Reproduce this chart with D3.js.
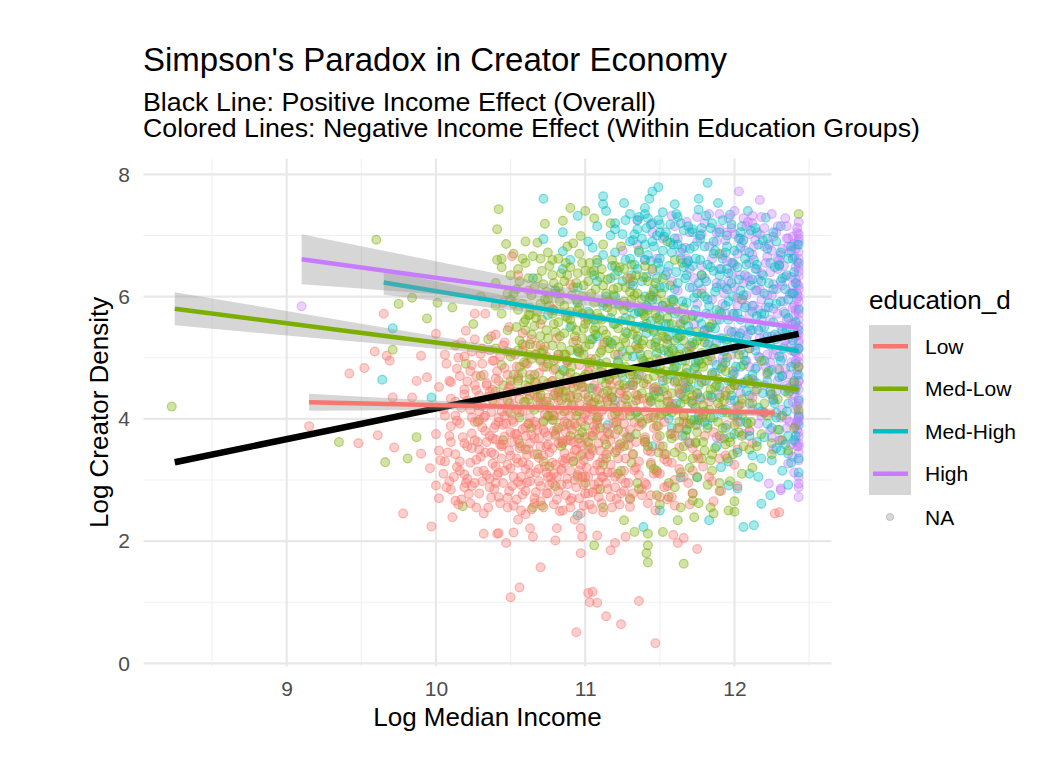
<!DOCTYPE html>
<html><head><meta charset="utf-8">
<script src="https://cdn.jsdelivr.net/npm/d3@7"></script>
<style>
html,body{margin:0;padding:0;background:#fff;}
svg text{font-family:"Liberation Sans",Arial,Helvetica,sans-serif;}
</style></head>
<body>
<svg id="chart" width="1051" height="761"></svg>
<script>
// ---------------- DATA ----------------
const groups = ["Low","Med-Low","Med-High","High"];
const groupColors = ["#F8766D","#7CAE00","#00BFC4","#C77CFF"];
const xTicks = [9,10,11,12];
const yTicks = [0,2,4,6,8];
const xMinor = [8.5,9.5,10.5,11.5,12.5];
const yMinor = [1,3,5,7];

// individually read points [x, y]
const lowPts = [[9.15,3.88],[9.42,4.74],[9.48,3.6],[9.52,4.83],[9.59,5.1],[9.61,3.73],[9.65,5.72],[9.67,5.03],[9.69,4.95],[9.71,4.35],[9.72,3.53],[9.78,2.45],[9.84,4.35],[9.87,4.62],[9.9,3.43],[9.9,5.03],[9.94,4.68],[9.96,3.19],[9.97,2.24],[10.0,5.39],[10.0,2.91],[10.03,3.32],[10.07,2.88],[10.07,4.9],[10.11,2.39],[10.19,3.09],[10.2,5.44],[10.26,5.72],[10.3,5.06],[10.32,2.12],[10.41,2.12],[10.42,2.13],[10.47,1.97],[10.52,2.14],[10.63,2.21],[10.65,2.07],[10.8,2.01],[10.81,2.21],[10.97,2.21],[10.98,2.07],[11.08,2.09],[11.17,1.85],[11.2,1.97],[11.27,2.07],[11.59,2.1],[11.62,1.97],[11.66,2.05],[10.7,1.57],[10.5,1.08],[10.56,1.24],[11.02,1.15],[11.05,1.17],[11.03,1.0],[11.08,0.99],[11.14,0.77],[11.24,0.64],[10.94,0.51],[11.36,1.02],[11.47,0.33],[10.97,1.8],[11.75,1.87],[12.27,2.45],[12.3,2.47],
[10.35,2.55],[10.48,2.71],[10.6,2.44],[10.66,2.62],[10.74,2.78],[10.83,2.49],[10.9,2.66],[10.99,2.58],[11.05,2.8],[11.12,2.47],[11.21,2.69],[11.3,2.56],[11.38,2.75],[11.47,2.5],[11.55,2.68],[10.22,2.77],[10.15,2.6],[11.7,2.6],[10.57,2.92],[10.93,2.35],
[10.12,3.05],[10.2,2.95],[10.28,3.14],[10.36,2.88],[10.41,3.08],[10.5,3.19],[10.55,2.97],[10.63,3.11],[10.7,2.9],[10.77,3.05],[10.84,3.18],[10.88,2.93],[10.95,3.08],[11.01,3.2],[11.09,2.96],[11.15,3.12],[11.24,3.02],[11.33,3.16],[11.41,2.92],[11.5,3.1],[11.6,3.0],[11.72,3.15],[11.85,2.98],[10.05,3.1],
[10.08,3.45],[10.16,3.3],[10.24,3.52],[10.3,3.38],[10.38,3.27],[10.44,3.55],[10.5,3.4],[10.58,3.29],[10.62,3.5],[10.69,3.36],[10.75,3.58],[10.8,3.25],[10.86,3.44],[10.92,3.31],[10.98,3.56],[11.03,3.39],[11.1,3.28],[11.16,3.5],[11.22,3.35],[11.29,3.57],[11.36,3.3],[11.44,3.46],[11.53,3.34],[11.63,3.53],[11.75,3.41],[11.9,3.35],[12.02,3.5],
[10.0,3.75],[10.1,3.88],[10.18,3.7],[10.26,3.95],[10.33,3.8],[10.4,3.66],[10.47,3.92],[10.53,3.75],[10.6,3.86],[10.66,3.68],[10.72,3.97],[10.79,3.8],[10.85,3.64],[10.9,3.9],[10.96,3.74],[11.02,3.98],[11.07,3.82],[11.13,3.66],[11.19,3.93],[11.26,3.78],[11.33,3.95],[11.4,3.7],[11.49,3.88],[11.58,3.76],[11.68,3.92],[11.8,3.72],[11.95,3.9],[12.1,3.8],
[10.05,4.15],[10.13,4.05],[10.21,4.3],[10.29,4.12],[10.35,4.36],[10.42,4.02],[10.49,4.25],[10.56,4.1],[10.63,4.38],[10.7,4.18],[10.76,4.04],[10.82,4.3],[10.88,4.14],[10.94,4.4],[11.0,4.08],[11.06,4.27],[11.12,4.15],[11.18,4.35],[11.25,4.05],[11.32,4.22],[11.39,4.33],[11.47,4.1],[11.56,4.28],[11.66,4.06],[11.77,4.32],[11.9,4.18],[12.05,4.25],[12.2,4.1],
[10.1,4.6],[10.19,4.48],[10.27,4.7],[10.34,4.55],[10.41,4.78],[10.48,4.45],[10.55,4.66],[10.62,4.52],[10.69,4.75],[10.75,4.58],[10.82,4.44],[10.88,4.69],[10.95,4.55],[11.02,4.77],[11.09,4.5],[11.16,4.64],[11.24,4.46],[11.32,4.72],[11.41,4.56],[11.52,4.68],[11.65,4.5],[11.8,4.62],[12.0,4.55],
[10.15,5.0],[10.24,4.88],[10.31,5.15],[10.38,4.95],[10.46,5.25],[10.53,5.05],[10.6,4.9],[10.67,5.2],[10.74,5.02],[10.81,5.32],[10.88,4.92],[10.96,5.12],[11.04,4.98],[11.12,5.22],[11.22,5.05],[11.35,5.15],[11.5,4.95],[10.4,5.38],[10.58,5.4],[10.7,5.55],
[10.33,5.72],[10.45,5.9],[10.51,6.66],[10.62,6.1],[10.78,5.8],[10.9,6.2],[11.0,5.65],[10.55,6.35],[11.15,5.9],[11.3,6.3]];

const medLowPts = [[8.23,4.2],[9.35,3.62],[9.6,6.93],[9.66,3.29],[9.71,5.13],[9.75,5.88],[9.81,3.35],[9.84,5.98],[9.87,3.7],[9.94,5.64],[10.01,5.9],[10.11,5.82],[10.18,2.57],[10.42,7.43],[10.41,7.1],[10.41,6.6],[10.47,6.86],[10.44,6.62],[10.65,6.66],[10.73,7.19],[10.85,7.24],[10.9,7.45],[11.0,7.4],[10.92,6.87],[10.97,6.99],[11.06,7.28],[11.17,7.2],[11.06,1.93],[11.42,1.93],[11.66,1.63],[11.42,1.65],[12.43,7.35],[11.41,1.8],
[10.65,2.55],[10.71,2.58],[11.12,2.55],[11.26,2.34],[11.33,2.15],[11.42,2.12],[11.52,2.15],[11.62,2.34],[11.73,2.39],[11.86,2.45],[11.96,2.5],[12.0,2.48],[11.84,2.55],[11.72,2.66],[11.56,2.72],
[10.8,2.9],[10.95,3.05],[11.1,2.85],[11.22,3.1],[11.35,2.95],[11.48,3.15],[11.6,2.88],[11.75,3.05],[11.9,2.95],[12.05,3.1],[11.3,2.7],[11.5,2.6],
[10.6,3.5],[10.72,3.3],[10.85,3.6],[10.97,3.4],[11.05,3.72],[11.14,3.35],[11.23,3.58],[11.31,3.28],[11.4,3.66],[11.49,3.45],[11.57,3.75],[11.65,3.38],[11.74,3.6],[11.85,3.42],[11.97,3.7],[12.1,3.5],[12.25,3.6],[10.45,3.65],
[10.5,4.1],[10.62,3.92],[10.7,4.25],[10.79,4.05],[10.87,4.35],[10.94,3.88],[11.01,4.18],[11.08,4.02],[11.15,4.3],[11.21,3.95],[11.28,4.2],[11.35,4.38],[11.42,4.0],[11.5,4.24],[11.58,4.1],[11.66,4.36],[11.74,3.9],[11.83,4.15],[11.93,4.3],[12.05,4.05],[12.2,4.25],[10.38,4.3],[10.28,3.95],
[10.3,4.7],[10.45,4.55],[10.56,4.85],[10.66,4.6],[10.75,4.9],[10.83,4.48],[10.9,4.75],[10.97,4.58],[11.04,4.92],[11.11,4.65],[11.18,4.45],[11.25,4.82],[11.32,4.6],[11.39,4.95],[11.46,4.7],[11.53,4.5],[11.61,4.85],[11.69,4.62],[11.78,4.9],[11.88,4.55],[11.99,4.78],[12.12,4.65],[12.3,4.8],[10.2,4.9],
[10.35,5.3],[10.48,5.1],[10.6,5.45],[10.7,5.2],[10.79,5.55],[10.86,5.05],[10.93,5.35],[11.0,5.18],[11.07,5.5],[11.13,5.25],[11.2,5.05],[11.27,5.42],[11.34,5.2],[11.41,5.56],[11.48,5.3],[11.56,5.1],[11.64,5.45],[11.73,5.22],[11.83,5.5],[11.95,5.3],[12.1,5.15],[10.25,5.55],
[10.4,5.85],[10.52,6.05],[10.63,5.7],[10.73,5.95],[10.82,6.15],[10.9,5.75],[10.98,6.0],[11.05,5.65],[11.12,5.9],[11.19,6.12],[11.26,5.78],[11.33,6.02],[11.4,5.68],[11.48,5.95],[11.57,6.18],[11.66,5.82],[11.78,6.05],[11.9,5.75],[12.05,5.95],[10.3,6.0],
[10.55,6.45],[10.68,6.3],[10.78,6.6],[10.88,6.35],[10.96,6.7],[11.04,6.4],[11.12,6.85],[11.2,6.5],[11.28,6.3],[11.36,6.75],[11.45,6.45],[11.55,6.9],[11.65,6.55],[11.78,6.35],[11.9,6.7],[10.6,6.9]];

const medHighPts = [[9.64,4.64],[9.71,5.48],[9.97,4.35],[10.72,7.6],[10.72,6.94],[10.85,6.74],[11.12,7.64],[11.12,7.51],[11.26,7.53],[11.45,7.72],[11.49,7.79],[11.43,7.6],[11.6,7.51],[11.76,7.6],[11.82,7.86],[11.89,7.53],[11.97,7.34],[12.09,7.4],[12.21,7.29],[12.31,7.15],
[12.06,2.23],[12.13,2.26],[12.18,2.61],[11.83,2.34],[11.96,2.91],[12.02,2.86],[12.1,3.1],[12.25,3.32],[12.31,3.48],[12.36,3.43],[11.91,3.21],[11.75,3.04],[11.64,3.04],[11.5,2.5],[10.95,2.42],[11.39,2.23],
[11.3,3.7],[11.45,3.55],[11.58,3.85],[11.7,3.6],[11.82,3.9],[11.93,3.68],[12.04,3.95],[12.15,3.62],[12.25,3.85],[12.36,3.72],[12.43,3.9],[11.15,3.9],
[11.2,4.3],[11.34,4.1],[11.46,4.45],[11.57,4.2],[11.67,4.5],[11.76,4.05],[11.85,4.35],[11.94,4.15],[12.02,4.55],[12.1,4.25],[12.19,4.42],[12.28,4.1],[12.36,4.5],[12.43,4.3],[11.05,4.5],
[11.1,4.9],[11.25,4.7],[11.37,5.05],[11.48,4.8],[11.58,5.15],[11.67,4.65],[11.76,4.95],[11.85,4.75],[11.93,5.1],[12.01,4.85],[12.09,4.65],[12.17,5.0],[12.25,4.8],[12.33,5.15],[12.41,4.9],[10.95,5.1],[10.85,4.8],
[10.9,5.5],[11.05,5.3],[11.17,5.65],[11.28,5.4],[11.38,5.75],[11.47,5.25],[11.56,5.55],[11.64,5.35],[11.72,5.7],[11.8,5.45],[11.88,5.25],[11.96,5.62],[12.04,5.4],[12.12,5.75],[12.2,5.5],[12.28,5.3],[12.36,5.65],[12.43,5.45],[10.75,5.7],
[10.8,6.1],[10.95,5.9],[11.08,6.25],[11.2,6.0],[11.31,6.35],[11.41,5.85],[11.5,6.15],[11.59,5.95],[11.67,6.3],[11.75,6.05],[11.83,5.85],[11.91,6.2],[11.99,6.0],[12.07,6.35],[12.15,6.1],[12.23,5.9],[12.31,6.25],[12.4,6.05],[10.65,6.3],
[10.9,6.6],[11.05,6.8],[11.18,6.5],[11.3,6.9],[11.4,6.6],[11.5,6.45],[11.59,6.85],[11.68,6.55],[11.77,6.95],[11.86,6.7],[11.95,6.45],[12.04,6.8],[12.13,6.6],[12.22,6.95],[12.3,6.5],[12.38,6.75],
[11.2,7.1],[11.35,7.25],[11.5,7.05],[11.62,7.3],[11.72,7.1],[11.85,7.2],[11.95,7.0],[12.05,7.15],[12.15,7.05],[11.4,7.35]];

const highPts = [[9.1,5.84],[12.03,7.72],[12.17,7.58],[12.43,6.9],[12.43,2.94],[12.43,2.72],[12.31,2.83],[12.36,3.27],[12.23,2.94],[12.43,3.6],[12.25,3.7],[12.31,2.86],
[12.43,3.32],[12.42,3.55],[12.43,3.71],[12.41,3.88],[12.43,4.02],[12.42,4.21],[12.43,4.33],[12.4,4.49],[12.43,4.62],[12.42,4.8],[12.43,4.93],[12.41,5.08],[12.43,5.24],[12.42,5.37],[12.43,5.52],[12.4,5.68],[12.43,5.81],[12.42,5.97],[12.43,6.12],[12.41,6.28],[12.43,6.41],[12.42,6.57],[12.43,6.73],[12.4,6.86],[12.43,7.02],[12.42,7.12],[12.43,4.1],[12.43,5.15],[12.43,6.0],[12.43,3.95],
[11.75,3.9],[11.88,3.7],[12.0,4.05],[12.1,3.8],[12.2,4.1],[12.3,3.65],[12.35,4.0],
[11.6,4.6],[11.75,4.4],[11.87,4.75],[11.97,4.3],[12.06,4.6],[12.15,4.85],[12.24,4.4],[12.32,4.7],[12.37,4.45],
[11.55,5.3],[11.7,5.1],[11.82,5.45],[11.92,5.0],[12.01,5.35],[12.1,5.15],[12.18,5.5],[12.26,5.05],[12.34,5.4],[12.38,5.2],[11.4,5.5],
[11.45,6.0],[11.6,5.8],[11.72,6.15],[11.83,5.7],[11.93,6.05],[12.02,5.85],[12.1,6.25],[12.18,5.95],[12.26,6.2],[12.33,5.75],[12.38,6.05],[11.3,6.2],
[11.4,6.6],[11.55,6.4],[11.67,6.8],[11.78,6.5],[11.88,6.9],[11.98,6.55],[12.07,6.75],[12.15,6.45],[12.23,6.85],[12.3,6.6],[12.36,6.95],[11.25,6.75],
[11.6,7.15],[11.75,7.3],[11.9,7.1],[12.0,7.4],[12.12,7.2],[12.25,7.35],[12.35,7.15],[11.45,7.2]];

// dense-core points estimated column by column: [x, [y, y, ...]]
const lowCols = [[10.10,[3.62,4.33,2.84]],[10.14,[3.21,4.82,3.97]],[10.17,[2.68,4.18,5.25]],[10.21,[3.55,4.61,3.02]],[10.24,[4.02,2.9,5.1,3.76]],[10.27,[3.33,4.47,2.55]],[10.31,[3.86,4.9,2.98,4.21]],[10.34,[3.08,4.58,3.62]],[10.37,[2.71,4.11,5.35,3.45]],[10.40,[3.9,2.95,4.66,3.22]],[10.43,[4.38,3.58,2.62,5.02]],[10.46,[3.15,4.05,4.83,3.71]],[10.49,[2.82,3.48,4.52,5.5]],[10.52,[3.95,3.05,4.22,2.58]],[10.55,[3.66,4.7,3.28,2.35]],[10.58,[4.12,2.76,5.12,3.83]],[10.61,[3.41,4.46,2.96,4.9]],[10.64,[3.74,2.52,4.18,5.3]],[10.67,[3.12,4.6,3.9,2.8]],[10.70,[4.35,3.55,2.65,4.98]],[10.73,[3.22,4.08,3.78,5.18]],[10.76,[2.92,4.52,3.45,4.22]],[10.79,[3.98,3.1,4.8,2.6]],[10.82,[3.6,4.15,2.82,5.05]],[10.85,[4.45,3.32,3.88,2.5]],[10.88,[3.02,4.25,3.65,4.95]],[10.91,[3.82,2.7,4.58,3.38]],[10.94,[4.12,3.5,2.88,5.28]],[10.97,[3.25,4.65,3.95,2.45]],[11.00,[3.7,4.4,3.05,2.78]],[11.03,[4.18,3.42,2.6,4.85]],[11.06,[3.15,3.88,4.55,2.92]],[11.09,[4.02,3.6,2.72,4.32]],[11.12,[3.35,4.75,3.05]],[11.15,[3.78,2.85,4.28]],[11.18,[3.12,4.05,2.55]],[11.21,[3.9,3.48,4.62]],[11.24,[2.78,4.22,3.6]],[11.27,[3.35,4.5,2.95]],[11.30,[3.82,4.12,2.68]],[11.34,[3.2,4.4,3.62]],[11.38,[2.85,3.95,4.7]],[11.42,[3.48,4.25,2.62]],[11.46,[3.85,3.1,4.5]],[11.50,[2.72,4.05,3.55]],[11.55,[3.3,4.38,2.9]],[11.60,[3.72,2.58,4.15]],[11.66,[3.05,3.95,4.6]],[11.72,[2.78,3.52,4.3]],[11.79,[3.22,4.05]],[11.86,[2.65,3.78]],[11.94,[3.4,4.45]],[12.02,[2.9,3.95]],[12.12,[3.6,4.35]],
[10.02,[3.48,4.52,2.7]],[10.06,[4.05,3.3,5.05]],[10.09,[2.98,3.72,4.62]],[10.13,[3.42,4.28,2.66,5.2]],[10.16,[3.92,4.7,3.15]],[10.19,[2.88,3.6,4.4,5.02]],[10.23,[3.28,4.15,4.78,2.62]],[10.26,[3.65,2.95,4.55,5.3]],[10.29,[4.38,3.5,2.78,3.98]],[10.32,[3.15,4.02,4.72,2.45]],[10.36,[3.72,4.44,3.02,5.12]],[10.39,[2.85,3.42,4.25,4.95,3.85]],[10.42,[3.12,4.62,3.95,2.72]],[10.45,[3.58,4.3,2.95,5.2,3.9]],[10.48,[4.12,3.25,4.72,2.55]],[10.51,[3.62,2.9,4.38,3.98,5.08]],[10.54,[3.35,4.15,2.68,4.85,3.75]],[10.57,[4.45,3.55,3.05,2.5]],[10.60,[3.18,3.72,4.28,2.82,5.2]],[10.63,[4.02,2.98,3.6,4.72]],[10.66,[3.42,4.4,2.7,3.95,5.05]],[10.69,[2.98,3.68,4.5,3.18]],[10.72,[4.25,3.4,2.55,4.85,3.82]],[10.75,[3.05,3.72,4.35,2.78]],[10.78,[3.52,4.62,2.95,4.1,3.28]],[10.81,[4.35,3.82,2.68,3.05,4.98]],[10.84,[3.15,4.05,3.62,2.92]],[10.87,[3.78,4.55,2.75,3.35]],[10.90,[4.38,3.15,3.65,2.55,4.05]],[10.93,[3.0,3.92,4.62,3.48]],[10.96,[3.6,2.7,4.25,4.88,3.15]],[10.99,[4.02,3.32,2.92,4.52]],[11.02,[3.55,2.78,4.3,3.05]],[11.05,[4.12,3.48,2.52,3.78]],[11.08,[3.25,4.45,2.85,3.92]],[11.11,[3.72,4.12,3.05,2.62]],[11.14,[4.35,3.42,2.95,3.85]],[11.17,[3.65,4.55,2.72,3.25]],[11.20,[3.05,4.22,3.75,2.88]],[11.23,[3.52,4.05,2.6,4.42]],[11.26,[3.15,3.92,4.35,2.82]],[11.29,[3.68,2.95,4.15]],[11.32,[3.42,4.55,2.78]],[11.36,[3.88,3.08,4.32]],[11.40,[2.95,3.62,4.12]],[11.44,[3.28,4.02,2.75]],[11.48,[3.7,4.48,3.12]],[11.53,[2.88,3.95,3.42]],[11.58,[3.28,4.25,2.72]],[11.63,[3.85,3.18,4.42]],[11.69,[2.95,3.62]],[11.76,[3.35,4.12]],[11.83,[3.05,4.28]],[11.91,[3.68,2.82]],[12.00,[4.15,3.25]],
[10.28,[3.62,4.22]],[10.33,[3.45,4.05]],[10.38,[3.68,4.48]],[10.44,[3.35,4.12]],[10.50,[3.78,4.55]],[10.56,[3.52,4.32]],[10.62,[3.25,3.92]],[10.68,[3.82,4.25]],[10.74,[3.55,3.12]],[10.80,[3.72,4.42]],[10.86,[3.28,3.95]],[10.92,[3.62,4.22]],[10.98,[3.42,3.05]],[11.04,[3.72,4.15]],[11.10,[3.48,3.15]]];

const medLowCols = [[10.40,[5.15,6.22,4.45]],[10.44,[5.72,4.88,6.48]],[10.48,[4.3,5.45,6.05]],[10.52,[5.88,4.72,6.7]],[10.56,[4.02,5.28,6.25,3.6]],[10.60,[5.62,4.55,6.55]],[10.64,[4.98,3.85,6.02,5.38]],[10.68,[4.35,5.75,6.88,3.42]],[10.72,[5.12,4.62,6.2,3.95]],[10.76,[5.85,4.18,6.5,3.22]],[10.80,[4.82,5.42,3.75,6.05]],[10.84,[5.18,4.3,6.38,3.55]],[10.88,[5.65,4.95,3.92,6.82]],[10.92,[4.5,5.25,6.15,3.3]],[10.96,[5.08,4.12,5.82,3.68]],[11.00,[4.72,5.55,6.42,3.88,2.95]],[11.04,[5.3,4.25,6.05,3.52]],[11.08,[4.88,5.72,3.98,6.6]],[11.12,[5.45,4.42,3.25,6.18]],[11.16,[4.65,5.92,3.75,5.15]],[11.20,[5.28,4.08,6.35,3.45]],[11.24,[4.75,5.6,3.15,6.82]],[11.28,[5.02,4.38,5.85,3.7]],[11.32,[4.55,5.38,3.42,6.25]],[11.36,[5.15,4.02,5.75,2.85]],[11.40,[4.85,3.62,5.5,6.5]],[11.44,[4.28,5.22,3.25,6.02]],[11.48,[4.98,3.88,5.65,2.75]],[11.52,[4.45,5.35,3.55,6.3]],[11.56,[5.05,4.15,2.95,5.8]],[11.60,[4.62,3.45,5.28,6.6]],[11.64,[4.25,5.55,3.12,2.55]],[11.68,[4.82,3.82,5.1]],[11.72,[4.38,3.35,5.68,2.78]],[11.76,[4.95,3.98,2.62]],[11.80,[4.12,5.25,3.48]],[11.85,[4.72,3.15,5.55]],[11.90,[4.35,3.72,2.82]],[11.95,[5.0,3.35,4.1]],[12.00,[4.55,3.9,2.65]],[12.06,[3.55,4.88]],[12.12,[4.25,3.2]],[12.18,[3.75,4.95]],[12.25,[3.42,4.4]],[12.32,[4.05,3.65]],[12.40,[4.6,3.85]],
[10.50,[5.02,5.95,4.62,6.35]],[10.54,[4.45,5.5,6.12]],[10.58,[5.22,4.75,5.88,6.62]],[10.62,[4.32,5.05,6.3,5.7]],[10.66,[5.52,4.72,6.15,4.15]],[10.70,[4.95,5.88,4.4,6.62,5.35]],[10.74,[5.45,4.28,6.08,4.85]],[10.78,[4.62,5.2,6.35,5.72,3.98]],[10.82,[5.58,4.45,6.62,5.05,3.85]],[10.86,[4.78,5.85,4.12,6.25,5.4]],[10.90,[5.12,4.35,6.48,5.62,3.72]],[10.94,[4.68,5.45,6.22,4.05,5.95]],[10.98,[5.32,4.52,6.55,3.78,5.72]],[11.02,[4.92,5.62,4.35,6.25,3.62]],[11.06,[5.45,4.72,6.42,4.15,5.9]],[11.10,[5.08,4.22,5.65,6.32,3.85]],[11.14,[4.58,5.38,6.05,4.92,3.58]],[11.18,[5.22,4.35,5.75,6.6,4.75]],[11.22,[4.92,5.48,4.12,6.15,3.82]],[11.26,[5.32,4.55,6.45,3.55,5.92]],[11.30,[4.72,5.12,4.05,6.08,5.62]],[11.34,[5.48,4.82,3.75,6.35,4.3]],[11.38,[4.42,5.22,5.95,3.92,4.98]],[11.42,[5.05,4.65,3.55,5.78,6.25]],[11.46,[4.38,5.45,4.02,6.08,3.18]],[11.50,[4.85,5.62,3.72,4.35,5.15]],[11.54,[4.12,5.32,3.42,4.78,5.9]],[11.58,[4.95,4.42,3.68,5.55]],[11.62,[4.15,5.02,3.85,4.62,5.75]],[11.66,[4.72,3.55,5.28,4.05]],[11.70,[4.48,3.92,5.05,3.2]],[11.74,[4.18,4.85,3.62,5.42]],[11.78,[4.6,3.35,4.02,5.08]],[11.82,[3.85,4.95,4.38,2.92]],[11.87,[4.52,3.52,5.15]],[11.92,[4.15,3.85,4.85]],[11.97,[3.62,4.48,2.98]],[12.03,[4.22,3.78,5.05]],[12.09,[3.92,4.62]],[12.15,[4.48,3.55]],[12.22,[4.05,4.75]],[12.29,[3.82,4.32]],[12.36,[4.42,3.48]],[12.43,[4.15,4.85]],
[10.71,[4.52,5.62,6.42,5.08]],[10.75,[5.32,4.05,6.72,5.95]],[10.79,[4.95,5.78,6.22,4.38]],[10.83,[5.35,6.05,4.72,5.92]],[10.87,[5.05,4.45,6.55,5.68]],[10.91,[5.52,4.85,6.02,4.22]],[10.95,[4.35,5.78,6.38,5.15]],[10.99,[5.05,6.18,4.68,5.48]],[11.03,[5.72,4.5,6.55,5.22]],[11.07,[4.98,5.38,6.12,4.35]],[11.11,[5.62,4.82,6.45,5.12]],[11.15,[5.28,4.45,6.28,5.82]],[11.19,[4.72,5.55,6.02,4.18]],[11.23,[5.18,5.85,4.55,6.48]],[11.27,[4.85,5.25,6.15,4.32]],[11.31,[5.52,4.78,5.95,6.52]],[11.35,[4.65,5.35,4.12,6.05]],[11.39,[5.28,4.58,5.72,6.32]],[11.43,[4.92,5.48,4.35,5.98]],[11.47,[5.18,4.52,6.22,5.72]],[11.51,[4.75,5.45,4.08,6.05]],[11.55,[5.22,4.65,5.65,4.28]],[11.59,[4.82,5.12,4.18,5.92]],[11.63,[5.35,4.48,3.95,5.05]],[11.67,[4.95,4.32,5.62,3.72]],[11.71,[4.65,5.18,3.98,4.28]],[11.75,[4.42,5.28,3.78,4.72]],[11.79,[4.85,4.22,3.62,5.35]],[11.84,[4.48,4.02,3.32,5.02]],[11.89,[4.65,3.95,4.25]],[11.94,[4.38,3.58,4.78]],[11.99,[4.05,4.62,3.42]],[12.05,[4.32,3.72]],[12.11,[4.58,3.95]],[10.63,[4.65,5.22,5.82]],[10.59,[4.92,5.58,4.28]],[10.55,[5.12,4.62,5.78]],[10.67,[5.05,5.65,4.48]]];

const medHighCols = [[10.85,[6.45,7.05]],[10.95,[6.15,7.32]],[11.02,[5.75,6.9]],[11.08,[6.55,7.15,5.35]],[11.14,[6.0,7.4,4.7]],[11.20,[6.72,5.55,7.2]],[11.25,[6.25,5.1,7.02]],[11.30,[5.82,6.62,4.55,7.35]],[11.35,[6.45,5.3,7.1]],[11.40,[6.0,4.9,6.85,7.45]],[11.44,[5.6,6.58,4.3,7.18]],[11.48,[6.3,5.08,7.0]],[11.52,[5.85,6.75,4.62,7.38]],[11.56,[6.5,5.35,4.0]],[11.60,[6.12,5.72,6.95,4.85]],[11.64,[5.15,6.62,7.2,4.4]],[11.68,[5.9,6.35,4.75,3.82]],[11.72,[6.5,5.25,7.05,4.25]],[11.76,[5.65,6.22,4.55,7.42]],[11.80,[6.82,5.05,3.95,6.0]],[11.84,[5.5,6.48,4.38,7.12]],[11.88,[6.15,4.88,5.78,3.55]],[11.92,[6.62,5.32,4.1,7.25]],[11.96,[5.92,4.62,6.38,3.3]],[12.00,[5.15,6.75,4.3,3.75]],[12.04,[6.1,5.62,4.85,7.05]],[12.08,[5.3,6.52,3.95,4.45]],[12.12,[6.28,4.72,5.85,3.4]],[12.16,[5.45,6.85,4.18,3.05]],[12.20,[6.05,4.95,5.72,3.7]],[12.24,[5.2,6.55,4.45,2.75]],[12.28,[5.88,4.02,6.9,3.52]],[12.32,[4.7,5.45,6.3,3.15]],[12.36,[5.95,4.25,6.62,2.92]],[12.40,[5.1,3.65,6.4,4.62]],[12.43,[5.78,4.05,6.55,3.35]],
[11.06,[6.35,5.62]],[11.12,[5.85,6.68]],[11.17,[6.3,5.25,7.0]],[11.22,[5.88,6.42,4.95]],[11.27,[6.6,5.65,7.25]],[11.32,[6.18,5.02,6.92]],[11.36,[5.75,6.72,4.72,7.3]],[11.41,[6.32,5.4,7.12]],[11.45,[6.9,5.95,4.85]],[11.49,[5.52,6.55,7.25,4.45]],[11.53,[6.15,5.12,6.98]],[11.57,[5.78,6.88,4.72,7.18]],[11.61,[6.4,5.45,4.25,7.35]],[11.65,[5.92,6.78,4.95,3.72]],[11.69,[6.58,5.52,7.15,4.52]],[11.73,[5.98,4.82,6.82,3.98]],[11.77,[5.35,6.6,4.35,7.0]],[11.81,[6.25,5.72,4.62,7.32]],[11.86,[5.15,6.9,4.02,6.42]],[11.90,[5.62,6.35,4.52,7.05]],[11.94,[4.92,5.85,6.72,3.85]],[11.98,[6.22,5.42,4.38,7.18]],[12.02,[5.72,6.48,4.05,3.45]],[12.06,[5.05,6.02,6.92,4.58]],[12.10,[5.52,4.38,6.72,3.72]],[12.14,[6.45,5.12,4.82,7.12]],[12.18,[5.72,6.25,4.12,3.35]],[12.22,[4.62,5.35,6.78,3.92]],[12.26,[6.12,5.58,4.32,7.05]],[12.30,[5.02,6.52,3.82,4.68]],[12.34,[5.72,6.12,4.45,3.58]],[12.38,[4.85,5.38,6.82,3.28]],[12.41,[6.22,5.58,4.48,3.72]],[12.43,[5.15,6.85,4.72,3.12]],
[11.33,[6.52,7.02,5.72]],[11.38,[6.25,6.95,5.52]],[11.42,[6.68,7.28,5.82]],[11.46,[6.12,6.82,5.42]],[11.50,[6.62,7.18,5.68]],[11.54,[6.35,5.55,7.05]],[11.58,[6.72,5.95,4.98]],[11.62,[6.22,6.85,5.32]],[11.66,[6.48,5.62,7.08]],[11.70,[6.15,6.78,5.42]],[11.74,[6.62,5.78,4.92]],[11.78,[6.35,5.55,7.12]],[11.82,[6.52,5.95,5.22]],[11.87,[6.08,6.75,5.48]],[11.91,[6.45,5.72,4.82]],[11.95,[6.12,6.82,5.25]],[11.99,[5.72,6.55,4.72]],[12.03,[6.28,5.35,6.95]],[12.07,[5.82,6.62,4.95]],[12.11,[6.18,5.45,7.08]],[12.15,[5.68,6.52,4.58]],[12.19,[6.35,5.25,6.92]],[12.23,[5.82,6.22,4.78]],[12.27,[6.48,5.38,4.25]],[12.31,[5.92,6.72,4.95]],[12.35,[5.45,6.35,4.12]],[12.39,[6.05,5.28,6.62]]];

const highCols = [[11.35,[6.85,7.25]],[11.45,[6.42,7.05]],[11.52,[6.95,5.85]],[11.58,[6.25,7.32]],[11.64,[5.6,6.72]],[11.70,[6.45,7.05,5.2]],[11.75,[5.88,6.9,4.7]],[11.80,[6.3,5.45,7.2]],[11.85,[5.95,6.62,4.95]],[11.90,[5.32,6.45,7.35,4.4]],[11.94,[6.15,5.72,6.92]],[11.98,[5.05,6.38,7.12,4.6]],[12.02,[5.98,6.7,4.2]],[12.06,[5.45,6.22,7.28,3.75]],[12.10,[6.55,4.85,5.7,7.02]],[12.14,[5.2,6.1,4.45,6.92]],[12.18,[6.38,5.62,7.3,4.05]],[12.22,[5.05,6.02,4.72,6.65]],[12.26,[5.8,6.98,4.3,3.5]],[12.29,[5.35,6.45,4.82,7.15]],[12.32,[6.18,5.0,4.15,6.78]],[12.35,[5.62,4.55,6.95,3.85]],[12.38,[5.12,6.32,3.58,4.92]],[12.40,[5.85,4.38,6.65,3.12]],[12.42,[4.72,5.48,6.2,3.82,7.05]],[12.43,[4.48,5.62,6.33,3.45,5.92,6.95,4.25,3.05]],
[11.48,[6.62]],[11.62,[6.95,6.1]],[11.68,[6.62,7.22]],[11.73,[6.3,5.55]],[11.78,[7.02,6.12]],[11.83,[5.25,6.82,7.35]],[11.88,[6.22,5.62,7.05]],[11.92,[6.68,4.92,5.88]],[11.96,[7.28,5.45,6.25]],[12.00,[5.72,6.52,4.75,7.02]],[12.04,[6.35,5.12,6.95,4.42]],[12.08,[5.85,7.15,4.95,6.02]],[12.12,[5.45,6.68,4.15,7.32]],[12.16,[6.28,5.02,5.78,3.92]],[12.20,[6.82,4.55,5.35,7.12]],[12.24,[5.62,6.4,3.82,4.92]],[12.28,[6.12,5.12,7.05,4.45]],[12.31,[5.52,6.68,3.65,4.02]],[12.34,[4.82,6.32,5.28,7.28]],[12.37,[6.05,3.95,5.55,6.72]],[12.39,[4.58,5.82,3.38,6.98]],[12.41,[5.35,6.48,4.15,3.62]],[12.42,[6.05,3.95,5.12,6.85,4.55]],[12.43,[5.38,4.85,6.62,3.78,6.18,5.02,7.22,2.88]],
[11.95,[6.58,7.05]],[12.00,[6.15,5.42]],[12.05,[6.88,5.95]],[12.09,[6.32,5.38,7.22]],[12.13,[6.82,5.85,4.62]],[12.17,[6.12,5.32,7.02]],[12.21,[6.55,5.82,4.85]],[12.25,[6.02,5.35,6.75]],[12.29,[6.62,5.72,4.62]],[12.33,[5.92,6.5,5.18]],[12.36,[6.82,5.32,4.72]],[12.39,[6.18,5.55,4.28]],[12.41,[6.78,5.78,4.95,3.92]],[12.43,[6.48,5.72,5.28,4.62,4.02,3.55]]];

// fitted lines: [xStart, yStart, xEnd, yEnd]
const overallFit = [8.25, 3.29, 12.43, 5.39];
const groupFits = [
  [9.15, 4.27, 12.27, 4.10],
  [8.25, 5.80, 12.43, 4.48],
  [9.65, 6.23, 12.43, 5.11],
  [9.10, 6.61, 12.43, 5.49]
];
// confidence band half-widths: [x, halfWidth]
const groupBands = [
  [[9.15,0.14],[9.8,0.09],[10.4,0.05],[10.9,0.03],[11.4,0.03],[11.9,0.05],[12.27,0.07]],
  [[8.25,0.27],[9.0,0.20],[9.8,0.12],[10.5,0.06],[11.2,0.03],[11.8,0.03],[12.43,0.06]],
  [[9.65,0.20],[10.3,0.13],[10.9,0.07],[11.5,0.03],[12.0,0.03],[12.43,0.05]],
  [[9.1,0.41],[9.8,0.30],[10.5,0.19],[11.2,0.09],[11.8,0.04],[12.2,0.03],[12.43,0.04]]
];

// ---------------- DRAW ----------------
const svg = d3.select("#chart");
const x = d3.scaleLinear().domain([8.04,12.65]).range([143.4,831.5]);
const y = d3.scaleLinear().domain([-0.05,8.26]).range([666.4,158.4]);
const [px0,px1] = x.range(); const [py0,py1] = y.range();

// grid
const g = svg.append("g");
g.selectAll(".xm").data(xMinor).join("line").attr("x1",d=>x(d)).attr("x2",d=>x(d)).attr("y1",py0).attr("y2",py1).attr("stroke","#f0f0f0").attr("stroke-width",1.1);
g.selectAll(".ym").data(yMinor).join("line").attr("y1",d=>y(d)).attr("y2",d=>y(d)).attr("x1",px0).attr("x2",px1).attr("stroke","#f0f0f0").attr("stroke-width",1.1);
g.selectAll(".xM").data(xTicks).join("line").attr("x1",d=>x(d)).attr("x2",d=>x(d)).attr("y1",py0).attr("y2",py1).attr("stroke","#e8e8e8").attr("stroke-width",2.2);
g.selectAll(".yM").data(yTicks).join("line").attr("y1",d=>y(d)).attr("y2",d=>y(d)).attr("x1",px0).attr("x2",px1).attr("stroke","#e8e8e8").attr("stroke-width",2.2);

// axes
const xAxis = svg.append("g").attr("transform",`translate(0,${681})`)
  .call(d3.axisBottom(x).tickValues(xTicks).tickSize(0).tickPadding(0).tickFormat(d3.format("d")));
xAxis.select(".domain").remove();
xAxis.selectAll("text").attr("font-size",21).attr("fill","#4d4d4d").attr("dy","0.71em")
  .style("font-family",'"Liberation Sans",Arial,sans-serif');
const yAxis = svg.append("g").attr("transform",`translate(${130},0)`)
  .call(d3.axisLeft(y).tickValues(yTicks).tickSize(0).tickPadding(0).tickFormat(d3.format("d")));
yAxis.select(".domain").remove();
yAxis.selectAll("text").attr("font-size",21).attr("fill","#4d4d4d")
  .style("font-family",'"Liberation Sans",Arial,sans-serif');

// points (interleaved in drawing order)
const expand = cols => cols.flatMap(([cx,ys]) => ys.map(v => [cx, v]));
const allSets = [lowPts.concat(expand(lowCols)), medLowPts.concat(expand(medLowCols)),
                 medHighPts.concat(expand(medHighCols)), highPts.concat(expand(highCols))];
const pts = [];
const maxLen = d3.max(allSets, s=>s.length);
for (let i=0;i<maxLen;i++) allSets.forEach((s,gi)=>{ if (i<s.length) pts.push({x:s[i][0], y:s[i][1], g:gi}); });
svg.append("g").selectAll("circle").data(pts).join("circle")
  .attr("cx",d=>x(d.x)).attr("cy",d=>y(d.y)).attr("r",4.4)
  .attr("fill",d=>groupColors[d.g]).attr("fill-opacity",0.35)
  .attr("stroke",d=>groupColors[d.g]).attr("stroke-opacity",0.48).attr("stroke-width",1.2);

// overall black line
const line = d3.line().x(d=>x(d[0])).y(d=>y(d[1]));
svg.append("path").attr("d",line([[overallFit[0],overallFit[1]],[overallFit[2],overallFit[3]]]))
  .attr("stroke","#000").attr("stroke-width",6.5).attr("fill","none");

// group ribbons + lines
groupFits.forEach((f,gi)=>{
  const fy = xx => f[1] + (f[3]-f[1])*(xx-f[0])/(f[2]-f[0]);
  const band = groupBands[gi].map(([bx,hw])=>({x:bx, lo:fy(bx)-hw, hi:fy(bx)+hw}));
  const area = d3.area().curve(d3.curveMonotoneX).x(d=>x(d.x)).y0(d=>y(d.lo)).y1(d=>y(d.hi));
  svg.append("path").attr("d",area(band)).attr("fill","#999999").attr("fill-opacity",0.4);
  svg.append("path").attr("d",line([[f[0],f[1]],[f[2],f[3]]]))
    .attr("stroke",groupColors[gi]).attr("stroke-width",4.5).attr("fill","none");
});

// titles
svg.append("text").attr("x",143).attr("y",71).attr("font-size",33).attr("fill","#000")
  .text("Simpson's Paradox in Creator Economy");
svg.append("text").attr("x",143).attr("y",110.5).attr("font-size",25).attr("fill","#000")
  .attr("textLength",513).attr("lengthAdjust","spacingAndGlyphs")
  .text("Black Line: Positive Income Effect (Overall)");
svg.append("text").attr("x",143).attr("y",136.5).attr("font-size",25).attr("fill","#000")
  .attr("textLength",777).attr("lengthAdjust","spacingAndGlyphs")
  .text("Colored Lines: Negative Income Effect (Within Education Groups)");
svg.append("text").attr("x",(px0+px1)/2).attr("y",726).attr("text-anchor","middle").attr("font-size",26).attr("fill","#000")
  .text("Log Median Income");
svg.append("text").attr("transform",`translate(108,${(py0+py1)/2}) rotate(-90)`).attr("text-anchor","middle").attr("font-size",26).attr("fill","#000")
  .text("Log Creator Density");

// legend
const lg = svg.append("g");
lg.append("text").attr("x",869).attr("y",309).attr("font-size",26).attr("fill","#000").text("education_d");
const keyH = 42.5, keyTop = 325;
lg.append("rect").attr("x",869).attr("y",keyTop).attr("width",42).attr("height",keyH*4).attr("fill","#999999").attr("fill-opacity",0.4);
groups.forEach((name,i)=>{
  const cy = keyTop + keyH*i + keyH/2;
  lg.append("line").attr("x1",873).attr("x2",908).attr("y1",cy).attr("y2",cy).attr("stroke",groupColors[i]).attr("stroke-width",4.5);
  lg.append("circle").attr("cx",890).attr("cy",cy).attr("r",2.2).attr("fill",groupColors[i]).attr("fill-opacity",0.5);
  lg.append("text").attr("x",925).attr("y",cy).attr("dy","0.36em").attr("font-size",21).attr("fill","#000").text(name);
});
const naY = keyTop + keyH*4 + 22;
lg.append("circle").attr("cx",890).attr("cy",naY).attr("r",3.6).attr("fill","#7f7f7f").attr("fill-opacity",0.3).attr("stroke","#7f7f7f").attr("stroke-opacity",0.35);
lg.append("text").attr("x",925).attr("y",naY).attr("dy","0.36em").attr("font-size",21).attr("fill","#000").text("NA");
</script>
</body></html>
